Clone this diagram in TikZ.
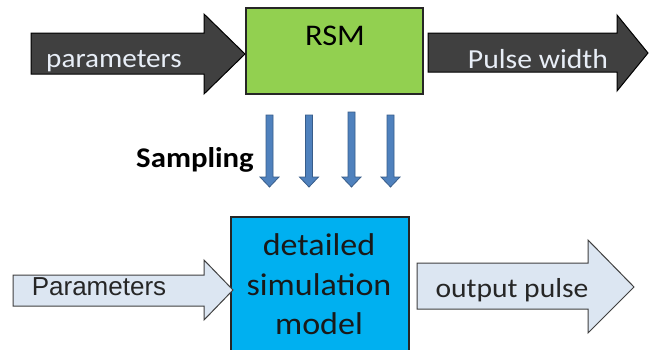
\documentclass[tikz,border=0pt]{standalone}
\usepackage{fontspec}
\newfontfamily\calib[FakeStretch=1.08]{Carlito}
\newfontfamily\arialf{Liberation Sans}
\definecolor{darkarrow}{HTML}{404040}
\definecolor{rsmgreen}{HTML}{92D050}
\definecolor{simblue}{HTML}{00B0F0}
\definecolor{paleblue}{HTML}{DCE6F2}
\definecolor{sampfill}{HTML}{4F81BD}
\definecolor{sampline}{HTML}{385D8A}
\definecolor{lighttext}{HTML}{E8EEF7}
\tikzset{
  darkblock/.style={fill=darkarrow, draw=black, line width=1pt, line join=miter},
  paleblock/.style={fill=paleblue, draw=black!75, line width=1pt, line join=miter},
  box/.style={draw=black!85, line width=1.2pt},
  samplearrow/.style={fill=sampfill, draw=sampline, line width=0.8pt},
  lbl/.style={inner sep=0pt, anchor=base},
}
\begin{document}
\begin{tikzpicture}[x=1pt, y=-1pt]
\clip (0,0) rectangle (649,349);
\fill[white] (0,0) rectangle (649,349);

% response surface model block
\draw[box, fill=rsmgreen] (246,8) rectangle (423,94);
\node[lbl] (rsm) at (335,45) {\calib\fontsize{30}{34}\selectfont RSM};

% input and output block arrows of the surface model
\draw[darkblock] (31,33) -- (204,33) -- (204,14) -- (245,54) -- (204,94) -- (204,74) -- (31,74) -- cycle;
\node[lbl, text=lighttext] (parin) at (114,67) {\calib\fontsize{27}{30}\selectfont parameters};
\draw[darkblock] (428,33) -- (617,33) -- (617,15) -- (648,53) -- (617,91) -- (617,72) -- (428,72) -- cycle;
\node[lbl, text=lighttext] (pw) at (538,68) {\calib\fontsize{27.5}{30}\selectfont Pulse width};

% sampling arrows
\foreach \cx/\ty in {269.5/115, 309/115, 351.5/112, 390.5/115} {
  \draw[samplearrow] (\cx-3.5,\ty) -- (\cx+3.5,\ty) -- (\cx+3.5,177) -- (\cx+9.5,177)
    -- (\cx,187) -- (\cx-9.5,177) -- (\cx-3.5,177) -- cycle;
}
\node[lbl] (samp) at (195,167) {\calib\bfseries\fontsize{28.5}{30}\selectfont Sampling};

% detailed simulation model block
\draw[box, fill=simblue] (231,217) rectangle (409,360);
\node[lbl, text=black!90] (l1) at (319,255) {\calib\fontsize{31.5}{36}\selectfont detailed};
\node[lbl, text=black!90] (l2) at (319,295) {\calib\fontsize{31.5}{36}\selectfont simulation};
\node[lbl, text=black!90] (l3) at (319,334) {\calib\fontsize{31.5}{36}\selectfont model};

% input and output block arrows of the simulation model
\draw[paleblock] (13,275) -- (204,275) -- (204,260) -- (233,290) -- (204,320) -- (204,306) -- (13,306) -- cycle;
\node[lbl, text=black!85] (parin2) at (99,295) {\arialf\fontsize{26}{30}\selectfont Parameters};
\draw[paleblock] (417,263) -- (588,263) -- (588,240) -- (634,287) -- (588,333) -- (588,309) -- (417,309) -- cycle;
\node[lbl, text=black!85] (outp) at (512,297) {\calib\fontsize{27.4}{30}\selectfont output pulse};
\end{tikzpicture}
\end{document}
